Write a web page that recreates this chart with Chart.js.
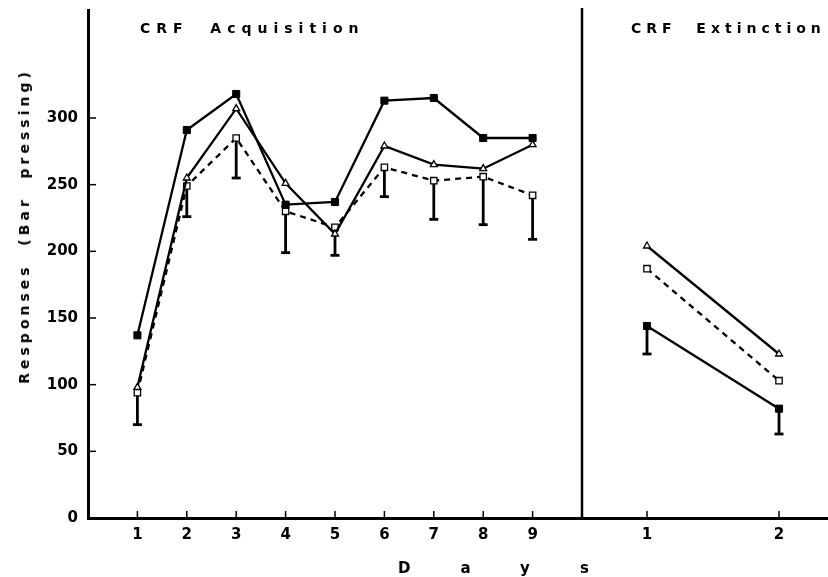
<!DOCTYPE html>
<html><head><meta charset="utf-8">
<script src="https://cdn.jsdelivr.net/npm/chart.js@4/dist/chart.umd.min.js"></script>
<style>
html,body{margin:0;padding:0;background:#fff;}
body{width:828px;height:577px;overflow:hidden;position:relative;font-family:"DejaVu Sans",sans-serif;}
canvas{position:absolute;top:0;}
#c1{left:0;}
#c2{left:578px;}
.lbl{position:absolute;font-weight:bold;color:#000;white-space:nowrap;font-size:14px;line-height:14px;}
#t1{left:140px;top:21px;letter-spacing:6px;}
#t2{left:631px;top:21px;letter-spacing:5px;}
#ytitle{left:24px;top:226px;transform:translate(-50%,-50%) rotate(-90deg);letter-spacing:4px;}
#xtitle{left:398px;top:561px;letter-spacing:50px;font-size:15px;}
</style></head>
<body>
<canvas id="c1" width="584" height="577"></canvas>
<canvas id="c2" width="262" height="577"></canvas>
<div class="lbl" id="t1">CRF&nbsp;&nbsp;Acquisition</div>
<div class="lbl" id="t2">CRF&nbsp;&nbsp;Extinction</div>
<div class="lbl" id="ytitle">Responses&nbsp;&nbsp;(Bar&nbsp;&nbsp;pressing)</div>
<div class="lbl" id="xtitle">Days</div>
<script>
// ---- data ----
const acqDays = [1, 2, 3, 4, 5, 6, 7, 8, 9];
const acqFilled = [137, 291, 318, 235, 237, 313, 315, 285, 285];
const acqTriangle = [98, 255, 307, 251, 213, 279, 265, 262, 280];
const acqOpen = [94, 249, 285, 230, 218, 263, 253, 256, 242];
const acqOpenErrLow = [70, 226, 255, 199, 197, 241, 224, 220, 209];

const extDays = [1, 2];
const extFilled = [144, 82];
const extTriangle = [204, 123];
const extOpen = [187, 103];
const extFilledErrLow = [123, 63];

const yTickValues = [0, 50, 100, 150, 200, 250, 300];
// ----------------

const FONT = {family: '"DejaVu Sans", sans-serif', size: 15, weight: 'bold'};
const pts = (xs, ys) => xs.map((x, i) => ({x: x, y: ys[i]}));

function filledDS(xs, ys, err) {
  return {label: 'Filled squares', data: pts(xs, ys), borderColor: '#000', borderWidth: 2.3,
    pointStyle: 'rect', pointRadius: 5, pointBackgroundColor: '#000', pointBorderColor: '#000',
    pointBorderWidth: 1, tension: 0, errLow: err};
}
function triDS(xs, ys, err) {
  return {label: 'Open triangles', data: pts(xs, ys), borderColor: '#000', borderWidth: 2.3,
    pointStyle: 'triangle', pointRadius: 4, pointBackgroundColor: '#fff', pointBorderColor: '#000',
    pointBorderWidth: 1.3, tension: 0, errLow: err};
}
function openDS(xs, ys, err) {
  return {label: 'Open squares', data: pts(xs, ys), borderColor: '#000', borderWidth: 2.3,
    borderDash: [6, 5], pointStyle: 'rect', pointRadius: 4.5, pointBackgroundColor: '#fff',
    pointBorderColor: '#000', pointBorderWidth: 1.3, tension: 0, errLow: err};
}

const decor = {
  id: 'decor',
  beforeDatasetsDraw(chart) {
    const ctx = chart.ctx, xs = chart.scales.x, ys = chart.scales.y;
    ctx.save();
    ctx.strokeStyle = '#000';
    ctx.lineWidth = 2.8;
    chart.data.datasets.forEach(ds => {
      if (!ds.errLow) return;
      ds.data.forEach((p, i) => {
        const lo = ds.errLow[i];
        if (lo == null) return;
        const px = xs.getPixelForValue(p.x);
        const py = ys.getPixelForValue(p.y);
        const pl = ys.getPixelForValue(lo);
        ctx.beginPath(); ctx.moveTo(px, py); ctx.lineTo(px, pl); ctx.stroke();
        ctx.beginPath(); ctx.moveTo(px - 4.5, pl); ctx.lineTo(px + 4.5, pl); ctx.stroke();
      });
    });
    ctx.restore();
  },
  afterDraw(chart, args, opts) {
    const ctx = chart.ctx, xs = chart.scales.x, ys = chart.scales.y, ca = chart.chartArea;
    ctx.save();
    ctx.strokeStyle = '#000';
    ctx.lineWidth = 1.5;
    if (opts.yTicks) {
      yTickValues.forEach(v => {
        if (v === 0) return;
        const y = ys.getPixelForValue(v);
        ctx.beginPath(); ctx.moveTo(ca.left, y); ctx.lineTo(ca.left + 8, y); ctx.stroke();
      });
    }
    xs.ticks.forEach(t => {
      const x = xs.getPixelForValue(t.value);
      ctx.beginPath(); ctx.moveTo(x, ca.bottom); ctx.lineTo(x, ca.bottom - 7); ctx.stroke();
    });
    if (opts.divider) {
      ctx.lineWidth = 2.5;
      ctx.beginPath(); ctx.moveTo(ca.left + 1, ca.top - 2); ctx.lineTo(ca.left + 1, ca.bottom); ctx.stroke();
    }
    ctx.restore();
  }
};

function opts(xMin, xMax, xTickVals, showY, decorOpts, padLeft, padRight) {
  return {
    responsive: false, animation: false, events: [],
    layout: {autoPadding: false, padding: {top: 10, left: padLeft, right: padRight, bottom: 0}},
    plugins: {legend: {display: false}, tooltip: {enabled: false}, decor: decorOpts},
    scales: {
      x: {type: 'linear', min: xMin, max: xMax,
        afterBuildTicks: s => { s.ticks = xTickVals.map(v => ({value: v})); },
        afterFit: s => { s.height = 59; s.paddingLeft = 0; s.paddingRight = 0; },
        grid: {display: true, drawOnChartArea: false, drawTicks: false},
        border: {display: true, color: '#000', width: 3},
        ticks: {color: '#000', font: FONT, padding: 8, maxRotation: 0, autoSkip: false,
          callback: v => String(v)}},
      y: {type: 'linear', min: 0, max: 381, display: showY,
        afterBuildTicks: s => { s.ticks = yTickValues.map(v => ({value: v})); },
        afterFit: s => { if (showY) s.width = 88; s.paddingTop = 0; s.paddingBottom = 0; },
        grid: {display: true, drawOnChartArea: false, drawTicks: false},
        border: {display: true, color: '#000', width: 3},
        ticks: {color: '#000', font: FONT, padding: 10, callback: v => String(v)}}
    }
  };
}

new Chart(document.getElementById('c1'), {
  type: 'line',
  data: {datasets: [
    filledDS(acqDays, acqFilled, null),
    triDS(acqDays, acqTriangle, null),
    openDS(acqDays, acqOpen, acqOpenErrLow)
  ]},
  options: opts(0, 10, acqDays, true, {yTicks: true, divider: false}, 0, 2),
  plugins: [decor]
});

new Chart(document.getElementById('c2'), {
  type: 'line',
  data: {datasets: [
    filledDS(extDays, extFilled, extFilledErrLow),
    triDS(extDays, extTriangle, null),
    openDS(extDays, extOpen, null)
  ]},
  options: opts(0.5, 2.462, extDays, false, {yTicks: false, divider: true}, 3, 0),
  plugins: [decor]
});
</script>
</body></html>
